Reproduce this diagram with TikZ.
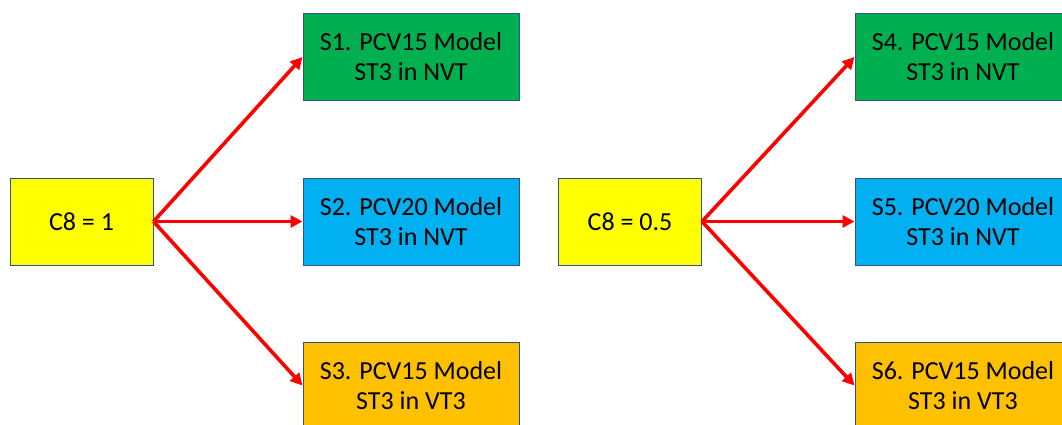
\documentclass[tikz,border=0pt]{standalone}
\usepackage{fontspec}
\setmainfont{Carlito}
\usetikzlibrary{arrows.meta}
\definecolor{boxline}{HTML}{2F528F}
\definecolor{cyel}{HTML}{FFFF00}
\definecolor{cgreen}{HTML}{00B050}
\definecolor{cblue}{HTML}{00B0F0}
\definecolor{corange}{HTML}{FFC000}
\definecolor{carrow}{HTML}{FF0000}
\begin{document}
\begin{tikzpicture}[x=1pt,y=-1pt,
  basebox/.style={draw=boxline, line width=1pt, inner sep=0pt, align=center,
    font=\fontsize{26}{30}\selectfont, text=black},
  srcbox/.style={basebox, fill=cyel, minimum width=143pt, minimum height=87pt},
  tgtbox/.style={basebox, minimum width=216pt, minimum height=87pt},
  arr/.style={draw=carrow, line width=3.6pt, -{Triangle[length=12pt,width=12pt]}}]
\useasboundingbox (0,0) rectangle (1062,424);
\clip (0,0) rectangle (1062,424);
% left group
\node[srcbox] (c1) at (81.5,221.5) {C8 = 1};
\node[tgtbox, fill=cgreen] (s1) at (411,57) {S1. PCV15 Model\\ST3 in NVT};
\node[tgtbox, fill=cblue] (s2) at (411,221.5) {S2. PCV20 Model\\ST3 in NVT};
\node[tgtbox, fill=corange] (s3) at (411,385.5) {S3. PCV15 Model\\ST3 in VT3};
% right group
\node[srcbox] (c2) at (630,221.5) {C8 = 0.5};
\node[tgtbox, fill=cgreen] (s4) at (963,57) {S4. PCV15 Model\\ST3 in NVT};
\node[tgtbox, fill=cblue] (s5) at (963,221.5) {S5. PCV20 Model\\ST3 in NVT};
\node[tgtbox, fill=corange] (s6) at (963,385.5) {S6. PCV15 Model\\ST3 in VT3};
% connectors
\draw[arr] (c1.east) -- (s1.west);
\draw[arr] (c1.east) -- (s2.west);
\draw[arr] (c1.east) -- (s3.west);
\draw[arr] (c2.east) -- (s4.west);
\draw[arr] (c2.east) -- (s5.west);
\draw[arr] (c2.east) -- (s6.west);
\end{tikzpicture}
\end{document}
